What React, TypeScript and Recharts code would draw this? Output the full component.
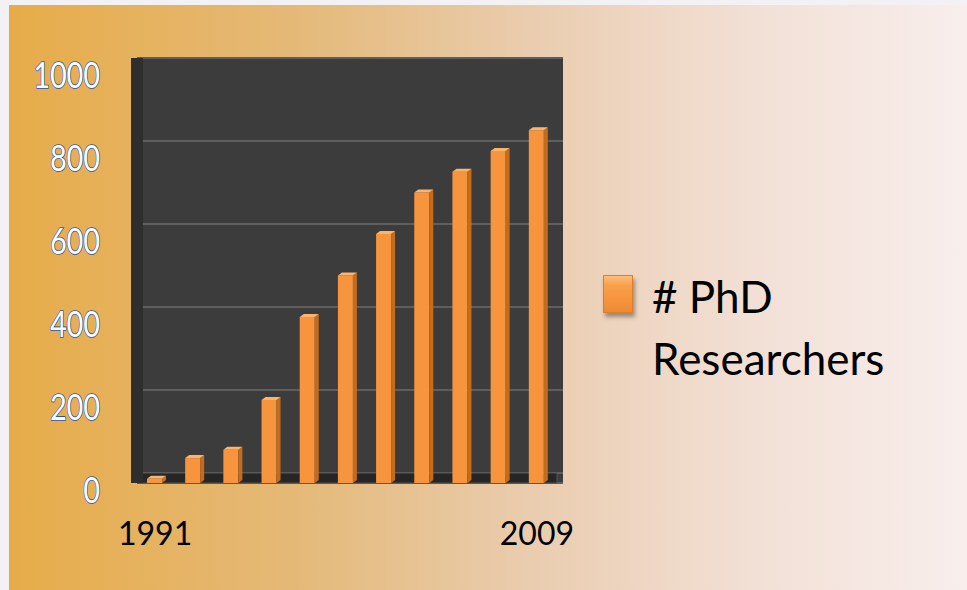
import React from "react";
import {
  ComposedChart,
  Bar,
  XAxis,
  YAxis,
  CartesianGrid,
  ReferenceArea,
  Legend,
} from "recharts";

// ---- data ----
const categories = ["1991", "", "", "", "", "", "", "", "", "", "2009"];
const researchers = [10, 60, 80, 200, 400, 500, 600, 700, 750, 800, 850];
const yTicks = [0, 200, 400, 600, 800, 1000];
const seriesName = "# PhD Researchers";

const data = categories.map((c, i) => ({ i, label: c, value: researchers[i] }));

const BAR_FRONT = "#F7953F";
const BAR_SIDE = "#C46C1E";
const BAR_TOP = "#FBB46E";

const Bar3D = (props: any) => {
  const { x, y, width, height } = props;
  if (height == null || isNaN(height)) return null;
  const side = 4;
  const d = 3;
  const fw = width - side;
  return (
    <g>
      <rect x={x} y={y} width={fw} height={height} fill={BAR_FRONT} />
      <polygon
        points={`${x + fw},${y} ${x + width},${y - d} ${x + width},${y + height - d} ${x + fw},${y + height}`}
        fill={BAR_SIDE}
      />
      <polygon
        points={`${x},${y} ${x + side},${y - d} ${x + width},${y - d} ${x + fw},${y}`}
        fill={BAR_TOP}
      />
    </g>
  );
};

const YTick = (props: any) => {
  const { x, y, payload } = props;
  return (
    <text
      transform={`translate(${x - 37},${y + 30}) scale(0.8,1)`}
      x={0}
      y={0}
      textAnchor="end"
      fontFamily="Lato, sans-serif"
      fontSize={36}
      fill="#ffffff"
      stroke="#2b55a8"
      strokeWidth={1.6}
      paintOrder="stroke"
    >
      {payload.value}
    </text>
  );
};

const XTick = (props: any) => {
  const { x, y, payload } = props;
  const label = categories[payload.value];
  if (!label) return null;
  return (
    <text
      x={x - 1}
      y={y + 62}
      textAnchor="middle"
      fontFamily="Lato, sans-serif"
      fontSize={32}
      fill="#000000"
    >
      {label}
    </text>
  );
};

const LegendContent = () => (
  <div style={{ position: "relative", width: 320, height: 130 }}>
    <div
      style={{
        position: "absolute",
        left: 0,
        top: 10,
        width: 30,
        height: 38,
        boxSizing: "border-box",
        background:
          "linear-gradient(to bottom, #FDBE7A 0%, #F9A04C 25%, #F7953F 60%, #EE8A33 100%)",
        border: "1px solid #D9802E",
        boxShadow: "2px 4px 4px rgba(0,0,0,0.35)",
      }}
    />
    <div
      style={{
        position: "absolute",
        left: 49,
        top: 0,
        width: 260,
        fontFamily: "Lato, sans-serif",
        fontSize: 44,
        lineHeight: "62px",
        color: "#000",
      }}
    >
      {seriesName}
    </div>
  </div>
);

export default function App() {
  return (
    <div
      style={{
        position: "absolute",
        left: 0,
        top: 0,
        width: 967,
        height: 590,
        background: "#F2F1F4",
        overflow: "hidden",
      }}
    >
      <div
        style={{
          position: "absolute",
          left: 9,
          top: 5,
          width: 958,
          height: 585,
          background:
            "linear-gradient(to right, #E7AC49 0%, #E4B978 30%, #EACDB0 55%, #F2E0D6 78%, #F8EEEC 100%)",
        }}
      />
      <div style={{ position: "absolute", left: 0, top: 0 }}>
        <ComposedChart
          width={967}
          height={590}
          data={data}
          margin={{ top: 58, right: 404, bottom: 47, left: 0 }}
        >
          <CartesianGrid
            yAxisId="back"
            vertical={false}
            stroke="#5E5E5E"
            strokeWidth={2}
            fill="#3C3C3C"
            fillOpacity={1}
          />
          <XAxis
            dataKey="i"
            type="category"
            interval={0}
            height={60}
            padding={{ left: 0, right: 6 }}
            axisLine={false}
            tickLine={false}
            tickSize={0}
            tickMargin={0}
            tick={<XTick />}
          />
          <YAxis
            yAxisId="back"
            type="number"
            domain={[-24, 1000]}
            allowDataOverflow
            ticks={yTicks}
            width={137}
            axisLine={{ stroke: "#2E2E2E", strokeWidth: 12 }}
            tickLine={false}
            tickSize={0}
            tickMargin={0}
            tick={<YTick />}
          />
          <YAxis
            yAxisId="front"
            type="number"
            domain={[0, 1024]}
            allowDataOverflow
            hide
          />
          <ReferenceArea
            yAxisId="back"
            y1={-24}
            y2={0}
            fill="#262626"
            fillOpacity={1}
            stroke="#555555"
            strokeWidth={1}
            ifOverflow="visible"
          />
          <Bar
            yAxisId="front"
            dataKey="value"
            name={seriesName}
            barSize={19}
            fill={BAR_FRONT}
            shape={<Bar3D />}
            isAnimationActive={false}
          />
          <Legend
            layout="vertical"
            align="center"
            verticalAlign="middle"
            content={<LegendContent />}
            wrapperStyle={{ left: 603, top: 265, width: 320, bottom: "auto", right: "auto" }}
          />
        </ComposedChart>
      </div>
    </div>
  );
}
